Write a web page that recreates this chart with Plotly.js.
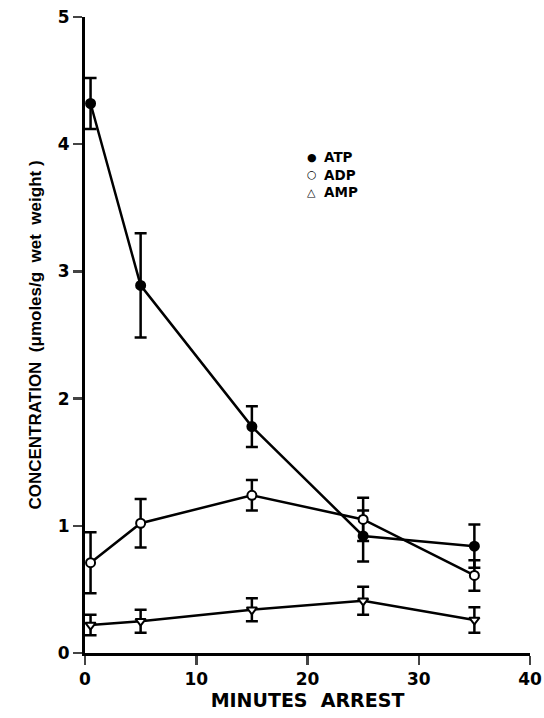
<!DOCTYPE html>
<html><head><meta charset="utf-8">
<script src="https://cdn.plot.ly/plotly-3.0.1.min.js"></script>
<style>body{margin:0;background:#fff}#c{width:544px;height:718px}</style>
</head><body><div id="c"></div>
<script>
const minutes = [0.5, 5, 15, 25, 35];
const atp = [4.32, 2.89, 1.78, 0.92, 0.84];
const atpErr = [0.2, 0.41, 0.16, 0.2, 0.17];
const adp = [0.71, 1.02, 1.24, 1.05, 0.61];
const adpErr = [0.24, 0.19, 0.12, 0.17, 0.12];
const amp = [0.22, 0.25, 0.34, 0.41, 0.26];
const ampErr = [0.08, 0.09, 0.09, 0.11, 0.1];
const yTicks = [0, 1, 2, 3, 4, 5];
const xTicks = [0, 10, 20, 30, 40];
const legendNames = ['ATP', 'ADP', 'AMP'];
const legendGlyphs = ['●', '○', '△'];

const F = "Liberation Sans, Arial, sans-serif";
const D = "DejaVu Sans, sans-serif";
function tr(y, e, sym, fill){
  return {x: minutes, y: y, type: 'scatter', mode: 'lines+markers',
    line: {color: '#000', width: 2.5},
    marker: {symbol: sym, size: 9, color: fill, line: {color: '#000', width: 2}},
    error_y: {type: 'data', array: e, visible: true, color: '#000', thickness: 2.5, width: 6},
    showlegend: false, cliponaxis: false};
}
const data = [tr(atp, atpErr, 'circle', '#000'), tr(adp, adpErr, 'circle', '#fff'), tr(amp, ampErr, 'triangle-down', '#fff')];
const legY = [0.779, 0.752, 0.724];
const annotations = legendGlyphs.map((g, i) => ({xref: 'paper', yref: 'paper', x: 0.51, y: legY[i],
  xanchor: 'center', yanchor: 'middle', showarrow: false, text: g, font: {size: 11, family: D, weight: 'bold'}}));
annotations.push({xref: 'paper', yref: 'paper', x: 0.533, y: 0.752, xanchor: 'left', yanchor: 'middle', align: 'left',
  showarrow: false, text: legendNames.join('<br>'), font: {size: 13.5, family: D, weight: 'bold'}});
const layout = {
  width: 544, height: 718,
  margin: {l: 85, r: 14, t: 17, b: 65},
  paper_bgcolor: '#fff', plot_bgcolor: '#fff',
  font: {family: F, color: '#000'},
  xaxis: {range: [0, 40], tickvals: xTicks, ticks: 'outside', ticklen: 9, tickwidth: 2.5,
    showline: true, linewidth: 3, linecolor: '#000', showgrid: false, zeroline: false,
    tickfont: {size: 17, family: D, weight: 'bold'},
    title: {text: 'MINUTES  ARREST', font: {size: 19, family: D, weight: 'bold'}, standoff: 4}},
  yaxis: {range: [0, 5], tickvals: yTicks, ticks: 'outside', ticklen: 9, tickwidth: 2.5,
    showline: true, linewidth: 3, linecolor: '#000', showgrid: false, zeroline: false,
    tickfont: {size: 17, family: D, weight: 'bold'},
    title: {text: 'CONCENTRATION  (μmoles/g  wet  weight )', font: {size: 17, family: F, weight: 'bold'}, standoff: 12}},
  annotations: annotations
};
Plotly.newPlot('c', data, layout, {displayModeBar: false, staticPlot: true});
</script></body></html>
